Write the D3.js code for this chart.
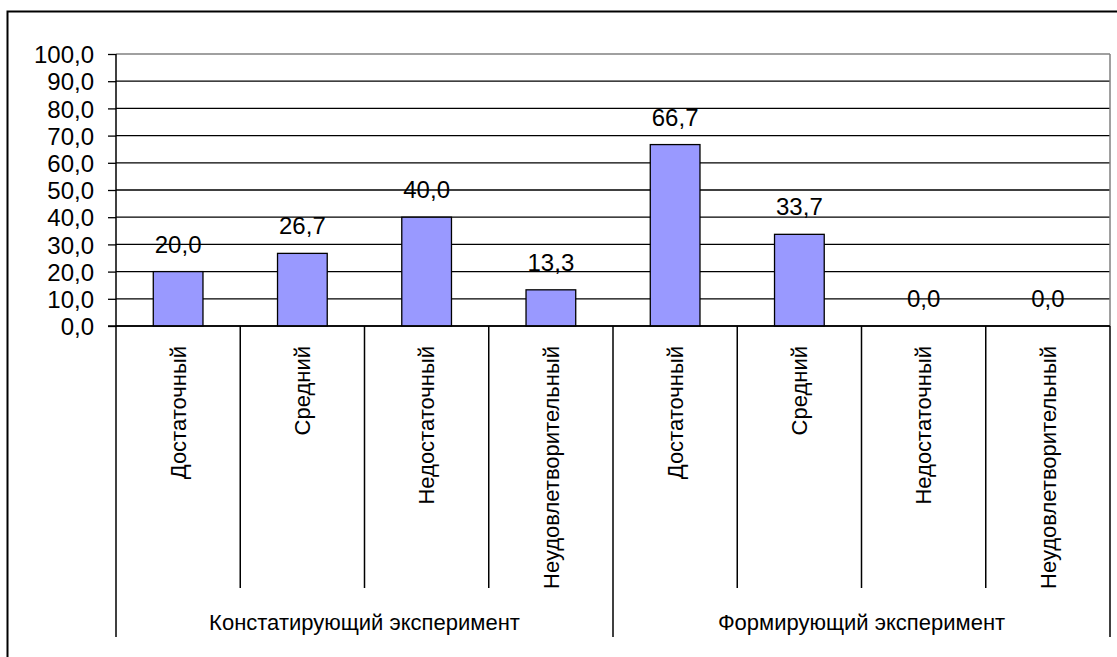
<!DOCTYPE html>
<html>
<head>
<meta charset="utf-8">
<script src="https://cdn.jsdelivr.net/npm/d3@7"></script>
<style>
    body { margin: 0; background: #fff; }
    svg { display: block; font-family: 'Liberation Sans', Arial, sans-serif; }
</style>
</head>
<body>
<div id="report"></div>
<script>
const groups = ['Констатирующий эксперимент', 'Формирующий эксперимент'];
const levels = ['Достаточный', 'Средний', 'Недостаточный', 'Неудовлетворительный'];
const values = [20.0, 26.7, 40.0, 13.3, 66.7, 33.7, 0.0, 0.0];
const yTicks = [0, 10, 20, 30, 40, 50, 60, 70, 80, 90, 100];

const width = 1117;
const height = 657;
const plot = { left: 116, right: 1110, top: 54, bottom: 326 };
const levelBottom = 588;
const groupBottom = 637;

const fmt = d3.formatLocale({ decimal: ',', thousands: ' ', grouping: [3], currency: ['', ''] }).format('.1f');

const cells = groups.flatMap((g, gi) => levels.map((l, li) => ({
    group: g,
    level: l,
    value: values[gi * levels.length + li],
    key: `${gi}-${li}`,
})));

function renderYAxis(svg, yScale) {
    svg.append('g')
    .selectAll('line')
    .data(yTicks)
    .enter()
    .append('line')
    .attr('x1', plot.left)
    .attr('x2', plot.right)
    .attr('y1', d => yScale(d))
    .attr('y2', d => yScale(d))
    .style('stroke', d => (d === 100 ? '#808080' : '#000'))
    .style('stroke-width', 1.3);

    const axis = svg.append('g')
    .attr('transform', `translate(${plot.left}, 0)`)
    .call(d3.axisLeft(yScale).tickValues(yTicks).tickFormat(fmt).tickSize(8).tickPadding(14));

    axis.select('.domain').remove();
    axis.selectAll('.tick line').style('stroke', '#000').style('stroke-width', 1.3);
    axis.selectAll('.tick text')
    .style('font-size', '24px')
    .style('font-family', "'Liberation Sans', Arial, sans-serif")
    .style('fill', '#000')
    .attr('dy', '0.36em');
}

function renderBars(svg, xScale, yScale) {
    svg.append('g')
    .selectAll('rect')
    .data(cells)
    .enter()
    .append('rect')
    .attr('x', d => xScale(d.key))
    .attr('width', xScale.bandwidth())
    .attr('y', d => yScale(d.value))
    .attr('height', d => yScale(0) - yScale(d.value))
    .attr('fill', '#9999ff')
    .style('stroke', '#000')
    .style('stroke-width', 1.3);

    svg.append('g')
    .selectAll('text')
    .data(cells)
    .enter()
    .append('text')
    .attr('x', d => xScale(d.key) + xScale.bandwidth() / 2)
    .attr('y', d => yScale(d.value) - 19)
    .attr('text-anchor', 'middle')
    .style('font-size', '24px')
    .text(d => fmt(d.value));
}

function renderXaxis(svg, cellScale, groupScale) {
    // right border of plot area
    svg.append('line')
    .attr('x1', plot.right).attr('x2', plot.right)
    .attr('y1', plot.top).attr('y2', plot.bottom)
    .style('stroke', '#808080')
    .style('stroke-width', 1.5);

    // axis line
    svg.append('line')
    .attr('x1', plot.left).attr('x2', plot.left)
    .attr('y1', plot.top).attr('y2', groupBottom)
    .style('stroke', '#000')
    .style('stroke-width', 1.5);

    // level separators
    svg.append('g')
    .selectAll('line')
    .data(cells.slice(1))
    .enter()
    .append('line')
    .attr('x1', d => cellScale(d.key))
    .attr('x2', d => cellScale(d.key))
    .attr('y1', plot.bottom)
    .attr('y2', (d, i) => ((i + 1) % levels.length === 0 ? groupBottom : levelBottom))
    .style('stroke', '#000')
    .style('stroke-width', 1.5);

    svg.append('line')
    .attr('x1', plot.right).attr('x2', plot.right)
    .attr('y1', plot.bottom).attr('y2', groupBottom)
    .style('stroke', '#000')
    .style('stroke-width', 1.5);

    // level labels
    svg.append('g')
    .selectAll('text')
    .data(cells)
    .enter()
    .append('text')
    .attr('transform', d => `translate(${cellScale(d.key) + cellScale.bandwidth() / 2}, ${plot.bottom + 20}) rotate(-90)`)
    .attr('text-anchor', 'end')
    .attr('dy', '0.35em')
    .style('font-size', '22px')
    .text(d => d.level);

    // group labels
    svg.append('g')
    .selectAll('text')
    .data(groups)
    .enter()
    .append('text')
    .attr('x', d => groupScale(d) + groupScale.bandwidth() / 2)
    .attr('y', 630)
    .attr('text-anchor', 'middle')
    .style('font-size', '22px')
    .text(d => d);

    // baseline of plot
    svg.append('line')
    .attr('x1', plot.left - 8).attr('x2', plot.right)
    .attr('y1', plot.bottom).attr('y2', plot.bottom)
    .style('stroke', '#000')
    .style('stroke-width', 1.5);
}

function render() {
    const svg = d3.select('#report')
    .append('svg')
    .attr('width', width)
    .attr('height', height);

    svg.append('rect')
    .attr('x', 7.5).attr('y', 11.5)
    .attr('width', width + 20).attr('height', height + 20)
    .attr('fill', '#fff')
    .style('stroke', '#000')
    .style('stroke-width', 2);

    const y = d3.scaleLinear()
    .domain([0, 100])
    .range([plot.bottom, plot.top]);

    const keys = cells.map(d => d.key);

    const x = d3.scaleBand()
    .domain(keys)
    .range([plot.left, plot.right])
    .paddingInner(0.6)
    .paddingOuter(0.3);

    const cellScale = d3.scaleBand()
    .domain(keys)
    .range([plot.left, plot.right]);

    const groupScale = d3.scaleBand()
    .domain(groups)
    .range([plot.left, plot.right]);

    renderYAxis(svg, y);
    renderBars(svg, x, y);
    renderXaxis(svg, cellScale, groupScale);
}

render();
</script>
</body>
</html>
